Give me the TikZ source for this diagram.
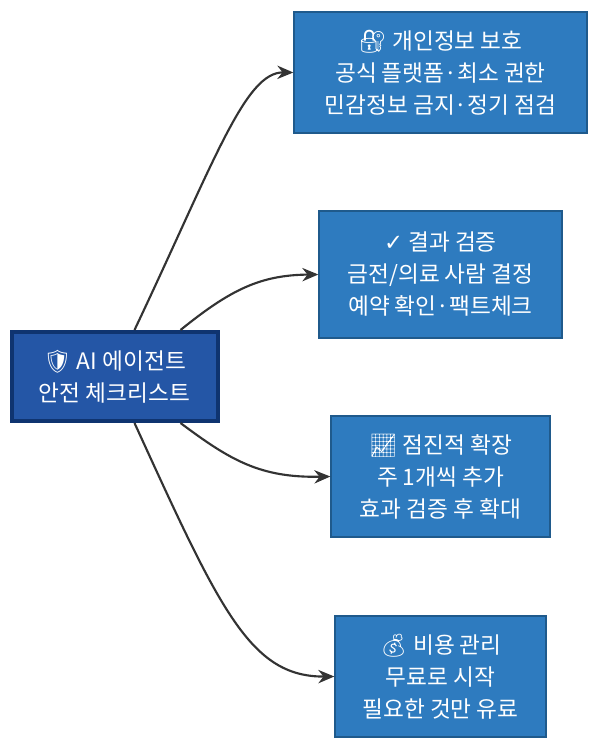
\documentclass[tikz,border=0pt]{standalone}
\usepackage{fontspec}
\setmainfont{Noto Sans CJK KR}
\newfontfamily\emo{Noto Emoji}
\newfontfamily\dvfont{DejaVu Sans}
\usetikzlibrary{calc,arrows.meta}
\definecolor{boxfill}{HTML}{2E7BBF}
\definecolor{boxline}{HTML}{1F5A8C}
\definecolor{mainfill}{HTML}{2456A6}
\definecolor{mainline}{HTML}{0F3470}
\tikzset{
  sub/.style={draw=boxline,line width=1pt,fill=boxfill,text=white,align=center,font=\fontsize{17}{24}\selectfont,inner sep=0pt},
  mainbox/.style={draw=mainline,line width=3pt,fill=mainfill,text=white,align=center,font=\fontsize{17}{24}\selectfont,inner sep=0pt},
  link/.style={draw=black!80,line width=1.6pt,-{Stealth[length=12pt,width=10pt]}}
}
\begin{document}
\begin{tikzpicture}[x=0.75pt,y=-0.75pt]
\useasboundingbox (0,0) rectangle (600,750);
\node[mainbox,minimum width=154.5pt,minimum height=66.75pt] (c) at (114.5,376.5) {{\emo 🛡}\ AI 에이전트\\안전 체크리스트};
\node[sub,minimum width=219.75pt,minimum height=90.75pt] (n1) at (440.5,72.5) {{\emo 🔐}\ 개인정보 보호\\공식 플랫폼·최소 권한\\민감정보 금지·정기 점검};
\node[sub,minimum width=182.25pt,minimum height=95.25pt] (n2) at (440.5,274.5) {{\dvfont ✓}\ 결과 검증\\금전/의료 사람 결정\\예약 확인·팩트체크};
\node[sub,minimum width=164.25pt,minimum height=90.75pt] (n3) at (440.5,476.5) {{\emo 📈}\ 점진적 확장\\주 1개씩 추가\\효과 검증 후 확대};
\node[sub,minimum width=158.25pt,minimum height=90.75pt] (n4) at (440.5,676.5) {{\emo 💰}\ 비용 관리\\무료로 시작\\필요한 것만 유료};
\draw[link] ($(c.north)+(20,0)$) .. controls (215,160) and (245,72) .. (n1.west);
\draw[link] ($(c.north east)+(-39,0)$) .. controls (230,290) and (260,275) .. (n2.west);
\draw[link] ($(c.south east)+(-39,0)$) .. controls (230,460) and (260,478) .. (n3.west);
\draw[link] ($(c.south)+(20,0)$) .. controls (220,610) and (250,677) .. (n4.west);
\end{tikzpicture}
\end{document}
